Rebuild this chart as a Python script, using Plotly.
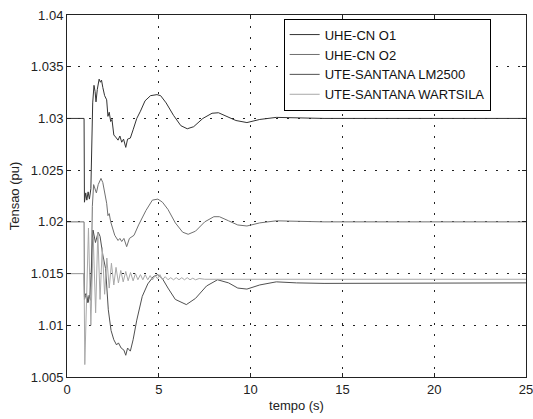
import plotly.graph_objects as go

# ---- data ----
t_o1 = [0, 0.93, 0.95, 1.02, 1.08, 1.15, 1.22, 1.3, 1.4, 1.47, 1.53, 1.58, 1.65, 1.75, 1.82, 1.88, 1.95,
        2.05, 2.16, 2.23, 2.3, 2.38, 2.45, 2.55, 2.65, 2.78, 2.88, 2.98, 3.08, 3.2, 3.3, 3.45, 3.6, 3.8,
        4.0, 4.25, 4.55, 4.9, 5.1, 5.4, 5.8, 6.2, 6.55, 6.9, 7.4, 7.9, 8.25, 8.7, 9.2, 9.8, 10.5, 11.4,
        12.5, 14, 25]
v_o1 = [1.03, 1.03, 1.0219, 1.0228, 1.0221, 1.0229, 1.0222, 1.0232, 1.0315, 1.0332, 1.0326, 1.0316,
        1.0328, 1.0338, 1.0335, 1.0337, 1.0330, 1.0322, 1.0318, 1.0302, 1.0306, 1.0297, 1.0299, 1.0284,
        1.0282, 1.0279, 1.0283, 1.0277, 1.0280, 1.0272, 1.0280, 1.0281, 1.0289, 1.0300, 1.0307, 1.0317,
        1.0322, 1.0323, 1.0322, 1.0315, 1.0303, 1.0293, 1.0290, 1.0292, 1.0300, 1.0305, 1.03055, 1.0302,
        1.0298, 1.0296, 1.0299, 1.0301, 1.03005, 1.0300, 1.0300]

t_o2 = [0, 0.93, 0.95, 1.05, 1.12, 1.2, 1.3, 1.38, 1.45, 1.53, 1.6, 1.7, 1.85, 1.95, 2.05, 2.16, 2.23,
        2.3, 2.38, 2.5, 2.6, 2.78, 2.88, 2.98, 3.1, 3.25, 3.4, 3.65, 3.9, 4.3, 4.65, 4.95, 5.2, 5.5, 5.9,
        6.3, 6.6, 7.0, 7.5, 8.0, 8.3, 8.8, 9.3, 9.8, 10.5, 11.4, 12.5, 14, 25]
v_o2 = [1.02, 1.02, 1.0125, 1.0130, 1.0122, 1.0129, 1.0124, 1.0215, 1.0236, 1.0232, 1.0228, 1.0236,
        1.0242, 1.0238, 1.0228, 1.0218, 1.0206, 1.0208, 1.0200, 1.0193, 1.0187, 1.0182, 1.0184, 1.0181,
        1.0184, 1.0176, 1.0184, 1.0187, 1.0197, 1.0211, 1.0221, 1.0222, 1.0219, 1.0212, 1.0199, 1.0190,
        1.0188, 1.0191, 1.0200, 1.0205, 1.0205, 1.0201, 1.0197, 1.0196, 1.0199, 1.0201, 1.02005, 1.0200,
        1.0200]

t_lm = [0, 0.93, 0.95, 1.05, 1.15, 1.25, 1.32, 1.42, 1.55, 1.7, 1.8, 1.95, 2.1, 2.25, 2.4, 2.55, 2.7,
        2.8, 2.95, 3.1, 3.2, 3.3, 3.45, 3.6, 3.8, 4.1, 4.4, 4.7, 4.95, 5.2, 5.5, 5.9, 6.5, 7.0, 7.6, 8.2,
        8.8, 9.3, 9.8, 10.5, 11.4, 12.5, 14, 25]
v_lm = [1.015, 1.015, 1.0128, 1.0131, 1.0122, 1.0130, 1.0150, 1.0192, 1.0180, 1.0190, 1.0186, 1.0168,
        1.0155, 1.0115, 1.0095, 1.0086, 1.0081, 1.0083, 1.0078, 1.0076, 1.0071, 1.0078, 1.0075, 1.0086,
        1.0105, 1.0128, 1.0140, 1.0147, 1.0149, 1.0145, 1.0136, 1.0125, 1.0120, 1.0126, 1.0138, 1.0144,
        1.0141, 1.0136, 1.0135, 1.0139, 1.0142, 1.0141, 1.01405, 1.0141]

t_wa = [0, 0.93, 0.97, 1.08, 1.17, 1.3, 1.43, 1.56, 1.68, 1.8, 1.92, 2.05, 2.17, 2.3, 2.42, 2.55, 2.67,
        2.8, 2.93, 3.06, 3.2, 3.33, 3.46, 3.6, 3.73, 3.86, 4.0, 4.13, 4.26, 4.4, 4.53, 4.66, 4.8, 4.93,
        5.06, 5.2, 5.35, 5.5, 5.65, 5.8, 5.95, 6.1, 6.25, 6.4, 6.55, 6.7, 6.85, 7.0, 7.2, 7.5, 25]
v_wa = [1.015, 1.015, 1.0062, 1.0150, 1.0194, 1.0100, 1.0185, 1.0112, 1.0190, 1.0125, 1.0175, 1.0130,
        1.0165, 1.0136, 1.0160, 1.0139, 1.0156, 1.0141, 1.0153, 1.0142, 1.0152, 1.0143, 1.0151, 1.0143,
        1.0150, 1.0144, 1.0149, 1.0144, 1.0149, 1.0144, 1.0148, 1.0144, 1.0148, 1.0145, 1.0149, 1.0144,
        1.0147, 1.0144, 1.0146, 1.0144, 1.0146, 1.0144, 1.0146, 1.0144, 1.0146, 1.0144, 1.01455, 1.0144,
        1.01452, 1.01445, 1.01445]

names = ["UHE-CN O1", "UHE-CN O2", "UTE-SANTANA LM2500", "UTE-SANTANA WARTSILA"]
colors = ["#333333", "#707070", "#505050", "#a8a8a8"]

x_ticks = [0, 5, 10, 15, 20, 25]
y_ticks = [1.005, 1.01, 1.015, 1.02, 1.025, 1.03, 1.035, 1.04]
y_tick_text = ["1.005", "1.01", "1.015", "1.02", "1.025", "1.03", "1.035", "1.04"]

fig = go.Figure()
for t, v, n, c in zip([t_o1, t_o2, t_lm, t_wa], [v_o1, v_o2, v_lm, v_wa], names, colors):
    fig.add_trace(go.Scatter(x=t, y=v, mode="lines", name=n,
                             line=dict(color=c, width=1)))

font = dict(family="Liberation Sans, Arial, sans-serif", size=13, color="#222")
axis_common = dict(showline=True, linecolor="#222", linewidth=1, mirror="allticks",
                   ticks="inside", ticklen=4, tickcolor="#222",
                   showgrid=True, gridcolor="#222", gridwidth=1, griddash="2px,9px",
                   zeroline=False, tickfont=font, ticklabeloverflow="allow",
                   automargin=False)

fig.update_layout(
    width=533, height=419,
    margin=dict(l=67, r=7, t=15, b=42),
    paper_bgcolor="white", plot_bgcolor="white",
    font=font,
    showlegend=True,
    legend=dict(x=0.472, y=0.99, xanchor="left", yanchor="top",
                bgcolor="white", bordercolor="#000", borderwidth=1,
                font=dict(family="Liberation Sans, Arial, sans-serif", size=13, color="#111"),
                tracegroupgap=0, itemwidth=30),
    xaxis=dict(range=[0, 25], tickvals=x_ticks,
               title=dict(text="tempo (s)", font=font, standoff=5), **axis_common),
    yaxis=dict(range=[1.005, 1.04], tickvals=y_ticks, ticktext=y_tick_text,
               title=dict(text="Tensao (pu)", font=font, standoff=8), **axis_common),
)

# remove the default page margin so the figure sits at the window's top-left corner
fig.write_html("out.html", config={"displayModeBar": False},
               post_script="document.body.style.margin='0';document.body.style.overflow='hidden';")
